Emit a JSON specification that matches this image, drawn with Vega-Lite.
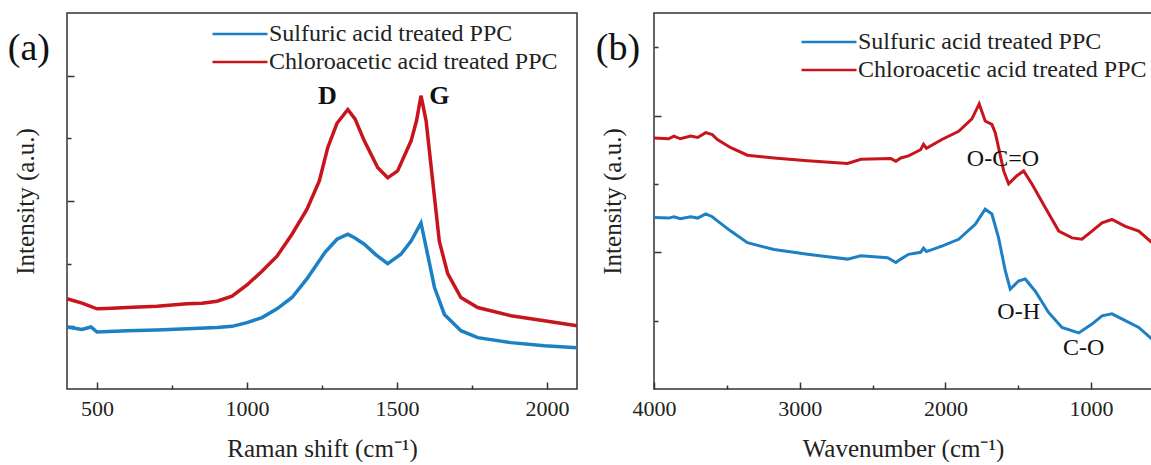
{
  "$schema": "https://vega.github.io/schema/vega-lite/v6.json",
  "padding": {"left": 7, "top": 12, "right": 0, "bottom": 0},
  "background": "white",
  "config": {
    "font": "Liberation Serif",
    "view": {"stroke": "#333", "strokeWidth": 1.5},
    "axis": {"domain": false, "grid": false, "tickColor": "#333", "tickWidth": 1.5, "labelFont": "Liberation Serif", "labelFontSize": 22, "labelColor": "#222", "labelFlush": false, "titleFont": "Liberation Serif", "titleFontSize": 25, "titleFontWeight": "normal", "titleColor": "#222"},
    "legend": {"title": null, "orient": "none", "symbolType": "M-5,0H5", "symbolSize": 121, "symbolStrokeWidth": 2.5, "labelFont": "Liberation Serif", "labelFontSize": 24, "labelColor": "#222", "labelOffset": 17, "symbolOffset": 20, "rowPadding": 4, "padding": 0, "labelLimit": 500}
  },
  "datasets": {
    "raman": [
      {"shift": 400, "intensity": 1.44, "sample": "Chloroacetic acid treated PPC"},
      {"shift": 450, "intensity": 1.37, "sample": "Chloroacetic acid treated PPC"},
      {"shift": 500, "intensity": 1.28, "sample": "Chloroacetic acid treated PPC"},
      {"shift": 550, "intensity": 1.29, "sample": "Chloroacetic acid treated PPC"},
      {"shift": 600, "intensity": 1.30, "sample": "Chloroacetic acid treated PPC"},
      {"shift": 700, "intensity": 1.32, "sample": "Chloroacetic acid treated PPC"},
      {"shift": 800, "intensity": 1.36, "sample": "Chloroacetic acid treated PPC"},
      {"shift": 850, "intensity": 1.37, "sample": "Chloroacetic acid treated PPC"},
      {"shift": 900, "intensity": 1.40, "sample": "Chloroacetic acid treated PPC"},
      {"shift": 950, "intensity": 1.48, "sample": "Chloroacetic acid treated PPC"},
      {"shift": 1000, "intensity": 1.66, "sample": "Chloroacetic acid treated PPC"},
      {"shift": 1050, "intensity": 1.88, "sample": "Chloroacetic acid treated PPC"},
      {"shift": 1100, "intensity": 2.12, "sample": "Chloroacetic acid treated PPC"},
      {"shift": 1150, "intensity": 2.47, "sample": "Chloroacetic acid treated PPC"},
      {"shift": 1200, "intensity": 2.87, "sample": "Chloroacetic acid treated PPC"},
      {"shift": 1241, "intensity": 3.32, "sample": "Chloroacetic acid treated PPC"},
      {"shift": 1269, "intensity": 3.85, "sample": "Chloroacetic acid treated PPC"},
      {"shift": 1300, "intensity": 4.24, "sample": "Chloroacetic acid treated PPC"},
      {"shift": 1336, "intensity": 4.46, "sample": "Chloroacetic acid treated PPC"},
      {"shift": 1360, "intensity": 4.31, "sample": "Chloroacetic acid treated PPC"},
      {"shift": 1391, "intensity": 3.96, "sample": "Chloroacetic acid treated PPC"},
      {"shift": 1436, "intensity": 3.53, "sample": "Chloroacetic acid treated PPC"},
      {"shift": 1469, "intensity": 3.37, "sample": "Chloroacetic acid treated PPC"},
      {"shift": 1502, "intensity": 3.48, "sample": "Chloroacetic acid treated PPC"},
      {"shift": 1547, "intensity": 3.96, "sample": "Chloroacetic acid treated PPC"},
      {"shift": 1565, "intensity": 4.28, "sample": "Chloroacetic acid treated PPC"},
      {"shift": 1580, "intensity": 4.68, "sample": "Chloroacetic acid treated PPC"},
      {"shift": 1597, "intensity": 4.28, "sample": "Chloroacetic acid treated PPC"},
      {"shift": 1619, "intensity": 3.32, "sample": "Chloroacetic acid treated PPC"},
      {"shift": 1641, "intensity": 2.36, "sample": "Chloroacetic acid treated PPC"},
      {"shift": 1669, "intensity": 1.84, "sample": "Chloroacetic acid treated PPC"},
      {"shift": 1713, "intensity": 1.46, "sample": "Chloroacetic acid treated PPC"},
      {"shift": 1769, "intensity": 1.30, "sample": "Chloroacetic acid treated PPC"},
      {"shift": 1880, "intensity": 1.17, "sample": "Chloroacetic acid treated PPC"},
      {"shift": 1991, "intensity": 1.09, "sample": "Chloroacetic acid treated PPC"},
      {"shift": 2100, "intensity": 1.01, "sample": "Chloroacetic acid treated PPC"},
      {"shift": 400, "intensity": 0.99, "sample": "Sulfuric acid treated PPC"},
      {"shift": 450, "intensity": 0.95, "sample": "Sulfuric acid treated PPC"},
      {"shift": 480, "intensity": 0.99, "sample": "Sulfuric acid treated PPC"},
      {"shift": 500, "intensity": 0.91, "sample": "Sulfuric acid treated PPC"},
      {"shift": 600, "intensity": 0.93, "sample": "Sulfuric acid treated PPC"},
      {"shift": 700, "intensity": 0.94, "sample": "Sulfuric acid treated PPC"},
      {"shift": 800, "intensity": 0.96, "sample": "Sulfuric acid treated PPC"},
      {"shift": 900, "intensity": 0.98, "sample": "Sulfuric acid treated PPC"},
      {"shift": 950, "intensity": 1.00, "sample": "Sulfuric acid treated PPC"},
      {"shift": 1000, "intensity": 1.06, "sample": "Sulfuric acid treated PPC"},
      {"shift": 1050, "intensity": 1.14, "sample": "Sulfuric acid treated PPC"},
      {"shift": 1100, "intensity": 1.28, "sample": "Sulfuric acid treated PPC"},
      {"shift": 1150, "intensity": 1.46, "sample": "Sulfuric acid treated PPC"},
      {"shift": 1200, "intensity": 1.76, "sample": "Sulfuric acid treated PPC"},
      {"shift": 1260, "intensity": 2.18, "sample": "Sulfuric acid treated PPC"},
      {"shift": 1300, "intensity": 2.39, "sample": "Sulfuric acid treated PPC"},
      {"shift": 1336, "intensity": 2.47, "sample": "Sulfuric acid treated PPC"},
      {"shift": 1360, "intensity": 2.41, "sample": "Sulfuric acid treated PPC"},
      {"shift": 1391, "intensity": 2.31, "sample": "Sulfuric acid treated PPC"},
      {"shift": 1430, "intensity": 2.14, "sample": "Sulfuric acid treated PPC"},
      {"shift": 1469, "intensity": 2.00, "sample": "Sulfuric acid treated PPC"},
      {"shift": 1513, "intensity": 2.15, "sample": "Sulfuric acid treated PPC"},
      {"shift": 1547, "intensity": 2.36, "sample": "Sulfuric acid treated PPC"},
      {"shift": 1580, "intensity": 2.65, "sample": "Sulfuric acid treated PPC"},
      {"shift": 1602, "intensity": 2.15, "sample": "Sulfuric acid treated PPC"},
      {"shift": 1625, "intensity": 1.62, "sample": "Sulfuric acid treated PPC"},
      {"shift": 1658, "intensity": 1.19, "sample": "Sulfuric acid treated PPC"},
      {"shift": 1713, "intensity": 0.93, "sample": "Sulfuric acid treated PPC"},
      {"shift": 1769, "intensity": 0.82, "sample": "Sulfuric acid treated PPC"},
      {"shift": 1880, "intensity": 0.74, "sample": "Sulfuric acid treated PPC"},
      {"shift": 1991, "intensity": 0.69, "sample": "Sulfuric acid treated PPC"},
      {"shift": 2100, "intensity": 0.66, "sample": "Sulfuric acid treated PPC"}
    ],
    "ftir": [
      {"wavenumber": 4000, "intensity": 3.67, "sample": "Chloroacetic acid treated PPC"},
      {"wavenumber": 3900, "intensity": 3.66, "sample": "Chloroacetic acid treated PPC"},
      {"wavenumber": 3863, "intensity": 3.70, "sample": "Chloroacetic acid treated PPC"},
      {"wavenumber": 3820, "intensity": 3.66, "sample": "Chloroacetic acid treated PPC"},
      {"wavenumber": 3748, "intensity": 3.70, "sample": "Chloroacetic acid treated PPC"},
      {"wavenumber": 3700, "intensity": 3.68, "sample": "Chloroacetic acid treated PPC"},
      {"wavenumber": 3645, "intensity": 3.75, "sample": "Chloroacetic acid treated PPC"},
      {"wavenumber": 3600, "intensity": 3.72, "sample": "Chloroacetic acid treated PPC"},
      {"wavenumber": 3565, "intensity": 3.65, "sample": "Chloroacetic acid treated PPC"},
      {"wavenumber": 3473, "intensity": 3.53, "sample": "Chloroacetic acid treated PPC"},
      {"wavenumber": 3359, "intensity": 3.42, "sample": "Chloroacetic acid treated PPC"},
      {"wavenumber": 3176, "intensity": 3.38, "sample": "Chloroacetic acid treated PPC"},
      {"wavenumber": 2946, "intensity": 3.34, "sample": "Chloroacetic acid treated PPC"},
      {"wavenumber": 2672, "intensity": 3.30, "sample": "Chloroacetic acid treated PPC"},
      {"wavenumber": 2580, "intensity": 3.36, "sample": "Chloroacetic acid treated PPC"},
      {"wavenumber": 2374, "intensity": 3.37, "sample": "Chloroacetic acid treated PPC"},
      {"wavenumber": 2340, "intensity": 3.33, "sample": "Chloroacetic acid treated PPC"},
      {"wavenumber": 2306, "intensity": 3.38, "sample": "Chloroacetic acid treated PPC"},
      {"wavenumber": 2253, "intensity": 3.41, "sample": "Chloroacetic acid treated PPC"},
      {"wavenumber": 2170, "intensity": 3.50, "sample": "Chloroacetic acid treated PPC"},
      {"wavenumber": 2150, "intensity": 3.58, "sample": "Chloroacetic acid treated PPC"},
      {"wavenumber": 2130, "intensity": 3.52, "sample": "Chloroacetic acid treated PPC"},
      {"wavenumber": 2024, "intensity": 3.65, "sample": "Chloroacetic acid treated PPC"},
      {"wavenumber": 1909, "intensity": 3.77, "sample": "Chloroacetic acid treated PPC"},
      {"wavenumber": 1818, "intensity": 3.95, "sample": "Chloroacetic acid treated PPC"},
      {"wavenumber": 1768, "intensity": 4.17, "sample": "Chloroacetic acid treated PPC"},
      {"wavenumber": 1727, "intensity": 3.92, "sample": "Chloroacetic acid treated PPC"},
      {"wavenumber": 1681, "intensity": 3.87, "sample": "Chloroacetic acid treated PPC"},
      {"wavenumber": 1658, "intensity": 3.75, "sample": "Chloroacetic acid treated PPC"},
      {"wavenumber": 1635, "intensity": 3.53, "sample": "Chloroacetic acid treated PPC"},
      {"wavenumber": 1600, "intensity": 3.19, "sample": "Chloroacetic acid treated PPC"},
      {"wavenumber": 1566, "intensity": 3.00, "sample": "Chloroacetic acid treated PPC"},
      {"wavenumber": 1509, "intensity": 3.12, "sample": "Chloroacetic acid treated PPC"},
      {"wavenumber": 1463, "intensity": 3.19, "sample": "Chloroacetic acid treated PPC"},
      {"wavenumber": 1406, "intensity": 3.00, "sample": "Chloroacetic acid treated PPC"},
      {"wavenumber": 1314, "intensity": 2.65, "sample": "Chloroacetic acid treated PPC"},
      {"wavenumber": 1222, "intensity": 2.31, "sample": "Chloroacetic acid treated PPC"},
      {"wavenumber": 1131, "intensity": 2.21, "sample": "Chloroacetic acid treated PPC"},
      {"wavenumber": 1063, "intensity": 2.19, "sample": "Chloroacetic acid treated PPC"},
      {"wavenumber": 994, "intensity": 2.31, "sample": "Chloroacetic acid treated PPC"},
      {"wavenumber": 925, "intensity": 2.43, "sample": "Chloroacetic acid treated PPC"},
      {"wavenumber": 857, "intensity": 2.48, "sample": "Chloroacetic acid treated PPC"},
      {"wavenumber": 765, "intensity": 2.38, "sample": "Chloroacetic acid treated PPC"},
      {"wavenumber": 673, "intensity": 2.31, "sample": "Chloroacetic acid treated PPC"},
      {"wavenumber": 582, "intensity": 2.14, "sample": "Chloroacetic acid treated PPC"},
      {"wavenumber": 4000, "intensity": 2.51, "sample": "Sulfuric acid treated PPC"},
      {"wavenumber": 3900, "intensity": 2.50, "sample": "Sulfuric acid treated PPC"},
      {"wavenumber": 3863, "intensity": 2.52, "sample": "Sulfuric acid treated PPC"},
      {"wavenumber": 3820, "intensity": 2.49, "sample": "Sulfuric acid treated PPC"},
      {"wavenumber": 3748, "intensity": 2.52, "sample": "Sulfuric acid treated PPC"},
      {"wavenumber": 3700, "intensity": 2.50, "sample": "Sulfuric acid treated PPC"},
      {"wavenumber": 3645, "intensity": 2.56, "sample": "Sulfuric acid treated PPC"},
      {"wavenumber": 3600, "intensity": 2.52, "sample": "Sulfuric acid treated PPC"},
      {"wavenumber": 3565, "intensity": 2.46, "sample": "Sulfuric acid treated PPC"},
      {"wavenumber": 3473, "intensity": 2.31, "sample": "Sulfuric acid treated PPC"},
      {"wavenumber": 3359, "intensity": 2.14, "sample": "Sulfuric acid treated PPC"},
      {"wavenumber": 3176, "intensity": 2.04, "sample": "Sulfuric acid treated PPC"},
      {"wavenumber": 2946, "intensity": 1.97, "sample": "Sulfuric acid treated PPC"},
      {"wavenumber": 2672, "intensity": 1.90, "sample": "Sulfuric acid treated PPC"},
      {"wavenumber": 2580, "intensity": 1.95, "sample": "Sulfuric acid treated PPC"},
      {"wavenumber": 2397, "intensity": 1.92, "sample": "Sulfuric acid treated PPC"},
      {"wavenumber": 2340, "intensity": 1.85, "sample": "Sulfuric acid treated PPC"},
      {"wavenumber": 2306, "intensity": 1.90, "sample": "Sulfuric acid treated PPC"},
      {"wavenumber": 2253, "intensity": 1.97, "sample": "Sulfuric acid treated PPC"},
      {"wavenumber": 2170, "intensity": 2.00, "sample": "Sulfuric acid treated PPC"},
      {"wavenumber": 2150, "intensity": 2.06, "sample": "Sulfuric acid treated PPC"},
      {"wavenumber": 2130, "intensity": 2.01, "sample": "Sulfuric acid treated PPC"},
      {"wavenumber": 2024, "intensity": 2.09, "sample": "Sulfuric acid treated PPC"},
      {"wavenumber": 1909, "intensity": 2.19, "sample": "Sulfuric acid treated PPC"},
      {"wavenumber": 1795, "intensity": 2.41, "sample": "Sulfuric acid treated PPC"},
      {"wavenumber": 1727, "intensity": 2.63, "sample": "Sulfuric acid treated PPC"},
      {"wavenumber": 1681, "intensity": 2.56, "sample": "Sulfuric acid treated PPC"},
      {"wavenumber": 1635, "intensity": 2.21, "sample": "Sulfuric acid treated PPC"},
      {"wavenumber": 1589, "intensity": 1.73, "sample": "Sulfuric acid treated PPC"},
      {"wavenumber": 1555, "intensity": 1.46, "sample": "Sulfuric acid treated PPC"},
      {"wavenumber": 1498, "intensity": 1.58, "sample": "Sulfuric acid treated PPC"},
      {"wavenumber": 1452, "intensity": 1.61, "sample": "Sulfuric acid treated PPC"},
      {"wavenumber": 1383, "intensity": 1.43, "sample": "Sulfuric acid treated PPC"},
      {"wavenumber": 1292, "intensity": 1.12, "sample": "Sulfuric acid treated PPC"},
      {"wavenumber": 1200, "intensity": 0.90, "sample": "Sulfuric acid treated PPC"},
      {"wavenumber": 1085, "intensity": 0.82, "sample": "Sulfuric acid treated PPC"},
      {"wavenumber": 994, "intensity": 0.95, "sample": "Sulfuric acid treated PPC"},
      {"wavenumber": 925, "intensity": 1.07, "sample": "Sulfuric acid treated PPC"},
      {"wavenumber": 857, "intensity": 1.10, "sample": "Sulfuric acid treated PPC"},
      {"wavenumber": 765, "intensity": 1.00, "sample": "Sulfuric acid treated PPC"},
      {"wavenumber": 673, "intensity": 0.90, "sample": "Sulfuric acid treated PPC"},
      {"wavenumber": 582, "intensity": 0.73, "sample": "Sulfuric acid treated PPC"}
    ],
    "ramanPeaks": [
      {"shift": 1268, "intensity": 4.68, "label": "D"},
      {"shift": 1641, "intensity": 4.68, "label": "G"}
    ],
    "ramanPanel": [
      {"shift": 273, "intensity": 5.43, "label": "(a)"}
    ],
    "ftirBands": [
      {"wavenumber": 1605, "intensity": 3.36, "label": "O-C=O"},
      {"wavenumber": 1497, "intensity": 1.12, "label": "O-H"},
      {"wavenumber": 1051, "intensity": 0.6, "label": "C-O"}
    ],
    "ftirPanel": [
      {"wavenumber": 4247, "intensity": 4.98, "label": "(b)"}
    ]
  },
  "spacing": 10,
  "resolve": {"scale": {"color": "independent"}, "legend": {"color": "independent"}},
  "hconcat": [
    {
      "width": 510,
      "height": 376,
      "encoding": {
        "x": {"field": "shift", "type": "quantitative", "scale": {"domain": [400, 2100], "nice": false, "zero": false},
          "axis": {"values": [500, 750, 1000, 1250, 1500, 1750, 2000], "format": "d", "labelExpr": "datum.value % 500 === 0 ? datum.label : ''", "tickSize": {"condition": {"test": "datum.value % 500 === 0", "value": -7}, "value": -4}, "labelPadding": 16, "title": "Raman shift (cm⁻¹)", "titlePadding": 17}},
        "y": {"field": "intensity", "type": "quantitative", "scale": {"domain": [0, 6], "nice": false, "zero": false},
          "axis": {"values": [1, 2, 3, 4, 5], "labels": false, "tickSize": {"condition": {"test": "datum.value % 2 === 1", "value": -7}, "value": -4}, "title": "Intensity (a.u.)", "titlePadding": 28}}
      },
      "layer": [
        {
          "data": {"name": "raman"},
          "mark": {"type": "line", "strokeWidth": 3.5},
          "encoding": {
            "color": {"field": "sample", "type": "nominal", "scale": {"domain": ["Sulfuric acid treated PPC", "Chloroacetic acid treated PPC"], "range": ["#1c80c4", "#c8141c"]},
              "legend": {"legendX": 141, "legendY": 9}}
          }
        },
        {
          "data": {"name": "ramanPeaks"},
          "mark": {"type": "text", "font": "Liberation Serif", "fontSize": 26, "fontWeight": "bold", "color": "#111", "baseline": "middle"},
          "encoding": {"text": {"field": "label"}}
        },
        {
          "data": {"name": "ramanPanel"},
          "mark": {"type": "text", "font": "Liberation Serif", "fontSize": 38, "color": "#111", "baseline": "middle"},
          "encoding": {"text": {"field": "label"}}
        }
      ]
    },
    {
      "width": 498,
      "height": 376,
      "encoding": {
        "x": {"field": "wavenumber", "type": "quantitative", "scale": {"domain": [582, 4000], "reverse": true, "nice": false, "zero": false},
          "axis": {"values": [1000, 1500, 2000, 2500, 3000, 3500, 4000], "format": "d", "labelExpr": "datum.value % 1000 === 0 ? datum.label : ''", "tickSize": {"condition": {"test": "datum.value % 1000 === 0", "value": -7}, "value": -4}, "labelPadding": 16, "title": "Wavenumber (cm⁻¹)", "titlePadding": 17}},
        "y": {"field": "intensity", "type": "quantitative", "scale": {"domain": [0, 5.5], "nice": false, "zero": false},
          "axis": {"values": [1, 2, 3, 4, 5], "labels": false, "tickSize": {"condition": {"test": "datum.value % 2 === 0", "value": -7}, "value": -4}, "title": "Intensity (a.u.)", "titlePadding": 28}}
      },
      "layer": [
        {
          "data": {"name": "ftir"},
          "mark": {"type": "line", "strokeWidth": 3},
          "encoding": {
            "color": {"field": "sample", "type": "nominal", "scale": {"domain": ["Sulfuric acid treated PPC", "Chloroacetic acid treated PPC"], "range": ["#1c80c4", "#c8141c"]},
              "legend": {"legendX": 143, "legendY": 17}}
          }
        },
        {
          "data": {"name": "ftirBands"},
          "mark": {"type": "text", "font": "Liberation Serif", "fontSize": 24, "color": "#111", "baseline": "middle"},
          "encoding": {"text": {"field": "label"}}
        },
        {
          "data": {"name": "ftirPanel"},
          "mark": {"type": "text", "font": "Liberation Serif", "fontSize": 38, "color": "#111", "baseline": "middle"},
          "encoding": {"text": {"field": "label"}}
        }
      ]
    }
  ]
}
